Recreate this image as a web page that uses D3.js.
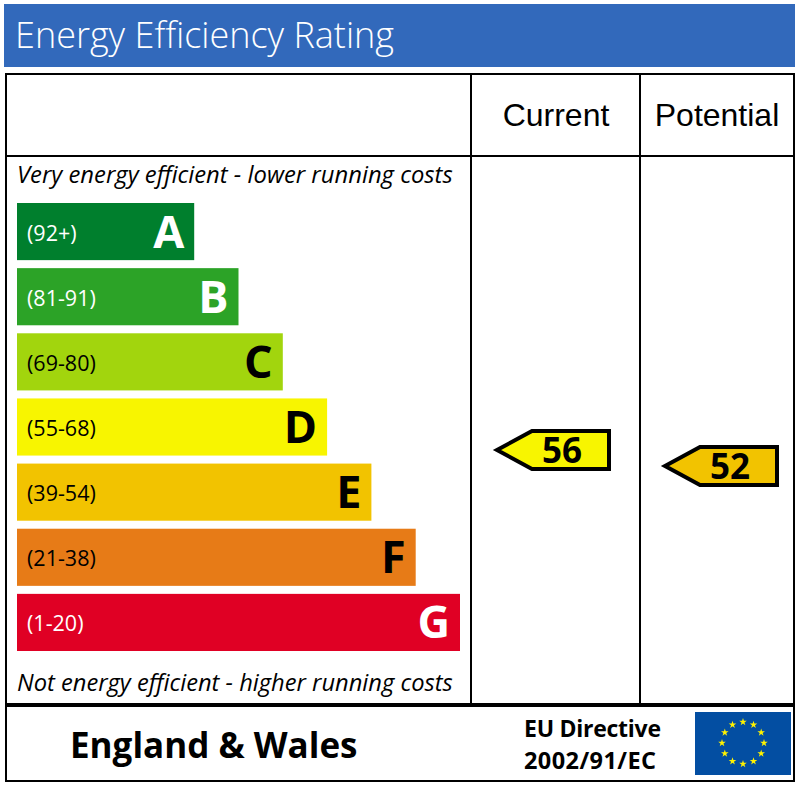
<!DOCTYPE html>
<html>
<head>
<meta charset="utf-8">
<script src="https://cdnjs.cloudflare.com/ajax/libs/d3/7.8.5/d3.min.js"></script>
<style>
  html, body { margin: 0; padding: 0; background: #fff; }
  svg { display: block; }
  text { font-family: "Open Sans", "Noto Sans", sans-serif; }
</style>
</head>
<body>
<svg id="chart" width="799" height="786"></svg>
<script>
// --- Data ---
const bands = ["A", "B", "C", "D", "E", "F", "G"];
const ranges = ["(92+)", "(81-91)", "(69-80)", "(55-68)", "(39-54)", "(21-38)", "(1-20)"];
const barLengths = [4, 5, 6, 7, 8, 9, 10];
const barColors = ["#007f2d", "#2ca327", "#a2d50d", "#f8f500", "#f2c300", "#e77b17", "#e00024"];
const rangeColors = ["#fff", "#fff", "#000", "#000", "#000", "#000", "#fff"];
const letterColors = ["#fff", "#fff", "#000", "#000", "#000", "#000", "#fff"];

const columns = ["Current", "Potential"];
const scores = [56, 52];
const scoreColors = ["#f8f500", "#f2c300"];

const svg = d3.select("#chart");

// --- Scales ---
const x = d3.scaleLinear().domain([0, 10]).range([17, 460]);
const y = d3.scaleBand().domain(bands).range([203, 651]).paddingInner(0.123);
const scoreY = d3.scaleLinear().domain([0, 100]).range([674, 274]);
const colX = d3.scaleOrdinal().domain(columns).range([609, 777]);

// --- Header ---
svg.append("rect").attr("x", 4).attr("y", 4).attr("width", 791).attr("height", 63)
    .attr("fill", "#3269bb");
svg.append("text").attr("x", 15).attr("y", 48)
    .attr("font-size", 36).attr("font-weight", 300).attr("fill", "#fff")
    .text("Energy Efficiency Rating");

// --- Frame ---
const frame = svg.append("g").attr("stroke", "#000").attr("fill", "none");
frame.append("rect").attr("x", 6).attr("y", 74).attr("width", 788).attr("height", 707).attr("stroke-width", 2);
frame.append("line").attr("x1", 6).attr("x2", 794).attr("y1", 156).attr("y2", 156).attr("stroke-width", 2);
frame.append("line").attr("x1", 471).attr("x2", 471).attr("y1", 74).attr("y2", 705).attr("stroke-width", 2);
frame.append("line").attr("x1", 640).attr("x2", 640).attr("y1", 74).attr("y2", 705).attr("stroke-width", 2);
frame.append("line").attr("x1", 6).attr("x2", 794).attr("y1", 705).attr("y2", 705).attr("stroke-width", 4);

// --- Column headers ---
svg.selectAll(".col").data(columns).join("text")
    .attr("class", "col")
    .attr("x", (d, i) => [556, 717][i])
    .attr("y", 126)
    .attr("text-anchor", "middle")
    .attr("font-size", 32)
    .style("font-family", "'Liberation Sans', Arial, sans-serif")
    .text(d => d);

// --- Captions ---
svg.append("text").attr("x", 17).attr("y", 183)
    .attr("font-size", 23.8).attr("font-style", "italic")
    .text("Very energy efficient - lower running costs");
svg.append("text").attr("x", 17).attr("y", 691)
    .attr("font-size", 23.7).attr("font-style", "italic")
    .text("Not energy efficient - higher running costs");

// --- Bars ---
const row = svg.selectAll(".band").data(bands).join("g").attr("class", "band");
row.append("rect")
    .attr("x", x(0))
    .attr("y", d => y(d))
    .attr("width", (d, i) => x(barLengths[i]) - x(0))
    .attr("height", y.bandwidth())
    .attr("fill", (d, i) => barColors[i]);
row.append("text")
    .attr("x", x(0) + 10)
    .attr("y", d => y(d) + y.bandwidth() / 2 + 9)
    .attr("font-size", 21.5)
    .attr("fill", (d, i) => rangeColors[i])
    .text((d, i) => ranges[i]);
row.append("text")
    .attr("x", (d, i) => x(barLengths[i]) - 10)
    .attr("y", d => y(d) + y.bandwidth() / 2 + 16)
    .attr("text-anchor", "end")
    .attr("font-size", 45)
    .attr("font-weight", 700)
    .attr("fill", (d, i) => letterColors[i])
    .text(d => d);

// --- Score arrows ---
const arrowPath = d3.path();
arrowPath.moveTo(0, 0);
arrowPath.lineTo(35, -19);
arrowPath.lineTo(112, -19);
arrowPath.lineTo(112, 19);
arrowPath.lineTo(35, 19);
arrowPath.closePath();

const arrow = svg.selectAll(".score").data(columns).join("g")
    .attr("class", "score")
    .attr("transform", (d, i) => `translate(${colX(d) - 112},${scoreY(scores[i])})`);
arrow.append("path")
    .attr("d", arrowPath.toString())
    .attr("fill", (d, i) => scoreColors[i])
    .attr("stroke", "#000")
    .attr("stroke-width", 4);
arrow.append("text")
    .attr("x", 65)
    .attr("y", 13)
    .attr("text-anchor", "middle")
    .attr("font-size", 35)
    .attr("font-weight", 700)
    .text((d, i) => scores[i]);

// --- Footer ---
svg.append("text").attr("x", 70).attr("y", 758)
    .attr("font-size", 35).attr("font-weight", 700)
    .text("England & Wales");
svg.append("text").attr("x", 524).attr("y", 737)
    .attr("font-size", 23).attr("font-weight", 700)
    .attr("textLength", 137)
    .text("EU Directive");
svg.append("text").attr("x", 524).attr("y", 769)
    .attr("font-size", 23.5).attr("font-weight", 700)
    .attr("textLength", 132)
    .text("2002/91/EC");

// --- EU flag ---
const flag = svg.append("g");
flag.append("rect").attr("x", 695).attr("y", 712).attr("width", 96).attr("height", 63).attr("fill", "#034ea2");
const star = d3.symbol().type(d3.symbolStar).size(18);
flag.selectAll("path").data(d3.range(12)).join("path")
    .attr("d", star)
    .attr("fill", "#fff200")
    .attr("transform", d => {
        const a = d / 12 * 2 * Math.PI;
        return `translate(${743 + 21 * Math.sin(a)},${743 - 21 * Math.cos(a)})`;
    });
</script>
</body>
</html>
